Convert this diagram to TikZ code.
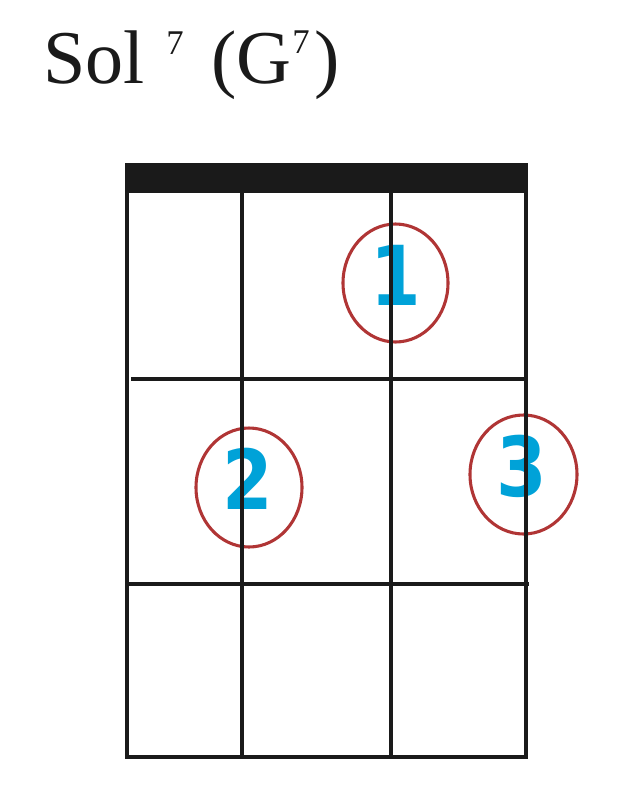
\documentclass[tikz,border=0pt]{standalone}
\usepackage{fontspec}
\setmainfont{Liberation Serif}
\newfontfamily\digitfont{DejaVu Sans}
\definecolor{ink}{HTML}{1A1A1A}
\definecolor{fingerblue}{HTML}{00A2D8}
\definecolor{ringred}{HTML}{B03535}
\tikzset{
  gridline/.style={draw=ink, line width=2.5pt},
  ring/.style={draw=ringred, line width=2.3pt},
  finger/.style={text=fingerblue, font=\digitfont\bfseries\fontsize{62}{62}\selectfont, inner sep=0pt, xscale=0.88},
  titletext/.style={text=ink, inner sep=0pt, anchor=base west, font=\fontsize{57}{60}\selectfont},
  suptext/.style={text=ink, inner sep=0pt, anchor=base west, font=\fontsize{26}{28}\selectfont}
}
\begin{document}
\begin{tikzpicture}[x=0.75pt,y=-0.75pt]
\useasboundingbox (0,0) rectangle (624,808);
% title
\node[titletext] (sol) at (43,83) {Sol};
\node[suptext] (sup1) at (166,54) {7};
\node[titletext] (pg) at (211,83) {(G};
\node[suptext] (sup2) at (292,53) {7};
\node[titletext] (pc) at (314,83) {)};
% rings and fingers
\draw[ring] (395.5,283) ellipse [x radius=52.5, y radius=59];
\draw[ring] (249,487.5) ellipse [x radius=53, y radius=59.5];
\draw[ring] (523.5,474.5) ellipse [x radius=53.5, y radius=59.5];
\node[finger] (f1) at (396,275) {1};
\node[finger] (f2) at (248,479) {2};
\node[finger] (f3) at (522,466) {3};
% nut
\fill[ink] (125,163) rectangle (528,191);
% grid
\draw[gridline] (127,191) rectangle (526,757);
\draw[gridline] (242,191) -- (242,757);
\draw[gridline] (391,191) -- (391,757);
\draw[gridline] (131,379) -- (526,379);
\draw[gridline] (127,584) -- (529,584);
\end{tikzpicture}
\end{document}
